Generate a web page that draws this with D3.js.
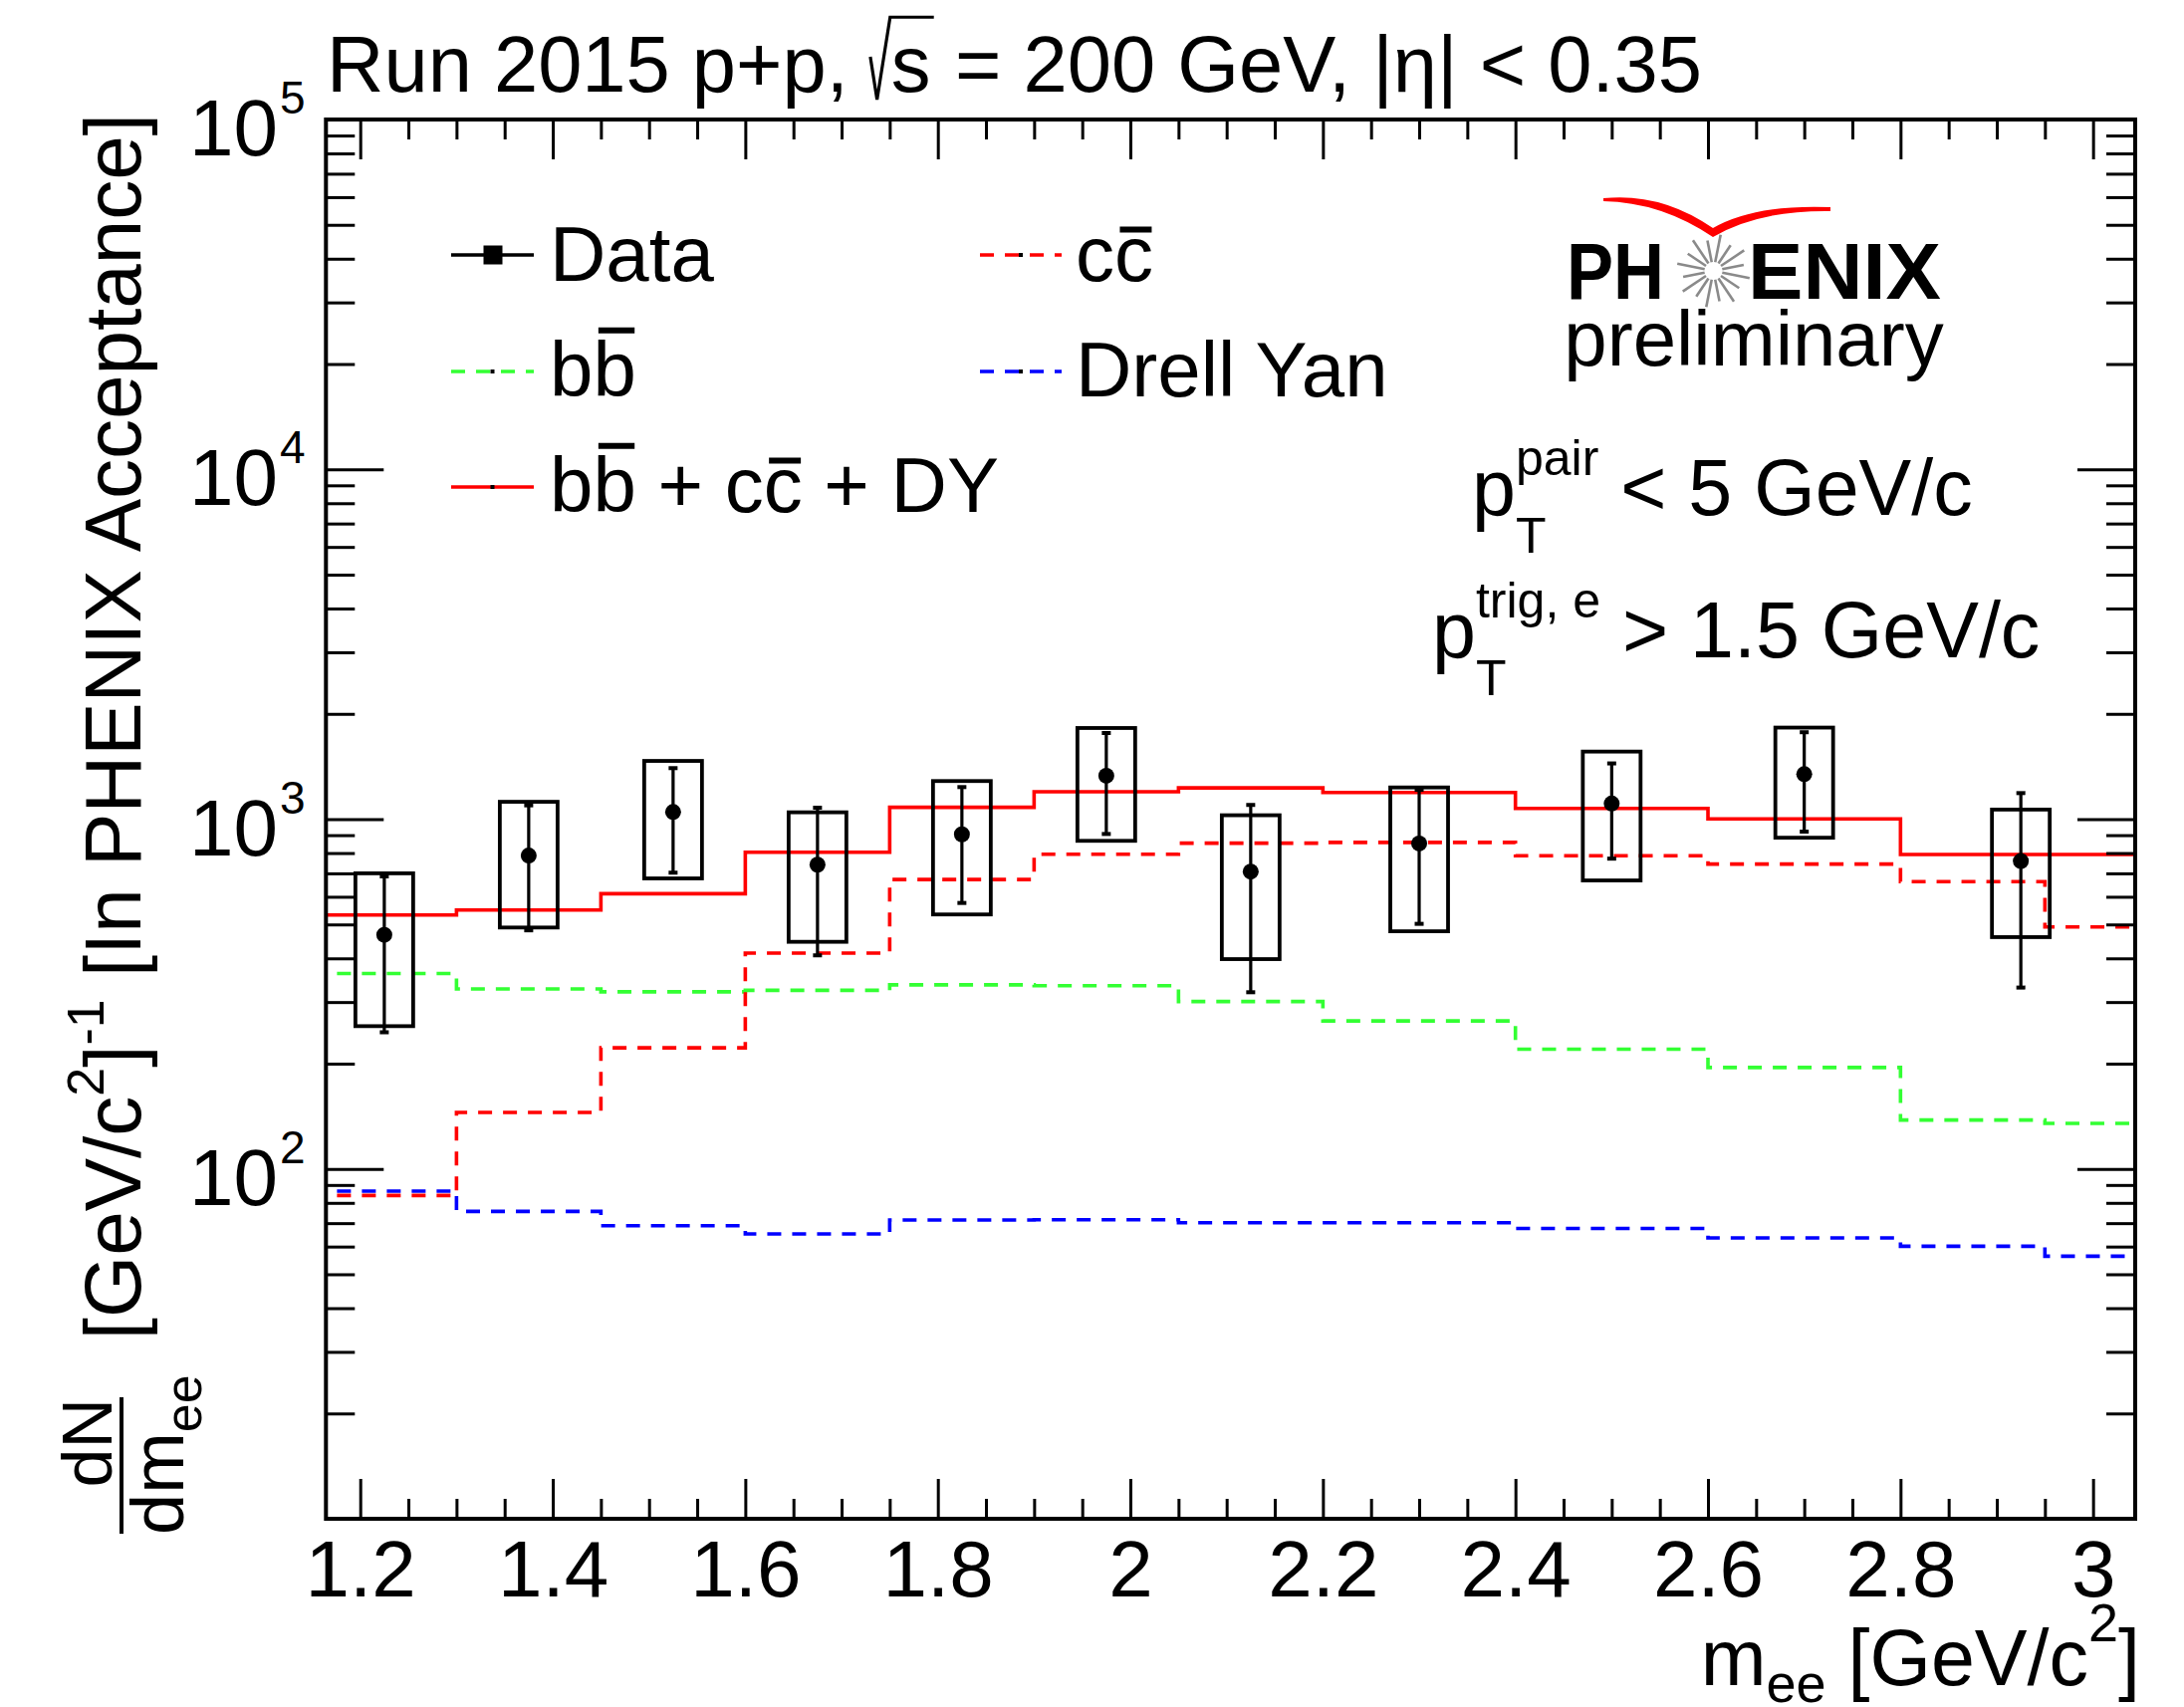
<!DOCTYPE html>
<html><head><meta charset="utf-8">
<script src="https://cdn.jsdelivr.net/npm/d3@7"></script>
<style>html,body{margin:0;padding:0;background:#fff;} svg{display:block;} svg text{white-space:pre;}</style>
</head><body>
<script>
// ---------------- data ----------------
const dataMass  = [1.225, 1.375, 1.525, 1.675, 1.825, 1.975, 2.125, 2.3, 2.5, 2.7, 2.925];
const dataYield = [467, 787, 1048, 741, 905, 1331, 708, 852, 1108, 1345, 759];
const statLow   = [246, 481, 703, 408, 576, 907, 320, 502, 771, 921, 330];
const statHigh  = [686, 1095, 1399, 1078, 1235, 1763, 1098, 1213, 1443, 1772, 1187];
const sysLow    = [256, 490, 677, 446, 534, 867, 398, 478, 668, 885, 460];
const sysHigh   = [700, 1121, 1467, 1046, 1285, 1822, 1026, 1232, 1560, 1827, 1065];
const sysHalfWidth = 0.03;

const sumBinEdges = [1.15, 1.3, 1.45, 1.6, 1.75, 1.9, 2.05, 2.2, 2.4, 2.6, 2.8, 3.05];
const sumTotal    = [532, 550, 612, 804, 1081, 1198, 1228, 1192, 1073, 1002, 792];

const modelBinEdges = [1.15, 1.3, 1.45, 1.6, 1.75, 1.9, 2.05, 2.2, 2.4, 2.6, 2.8, 2.95, 3.1];
const bbbar     = [362, 327, 321, 324, 336, 334, 301, 265, 220, 195, 138, 135];
const ccbar     = [84, 145, 222, 414, 672, 794, 854, 858, 786, 744, 663, 492];
const drellYan  = [86.4, 75.6, 68.8, 65.2, 71.5, 71.6, 70.2, 70.2, 67.6, 63.5, 60.1, 56.3];

const xTickValues = [1.2, 1.4, 1.6, 1.8, 2.0, 2.2, 2.4, 2.6, 2.8, 3.0];
const xTickLabels = ["1.2", "1.4", "1.6", "1.8", "2", "2.2", "2.4", "2.6", "2.8", "3"];
const yTickValues = [100, 1000, 10000, 100000];
const yTickExponents = ["2", "3", "4", "5"];

// ---------------- layout ----------------
const W = 2193, H = 1714;
const L = 327.3, R = 2144, T = 120, B = 1525;
const FONT = "'Liberation Sans', Arial, Helvetica, sans-serif";

const svg = d3.select("body").append("svg")
  .attr("width", W).attr("height", H)
  .attr("xml:space", "preserve")
  .style("font-family", FONT);
svg.append("rect").attr("width", W).attr("height", H).attr("fill", "#fff");

const x = d3.scaleLinear().domain([1.1644, 3.0438]).range([L, R]);
const y = d3.scaleLog().domain([10, 1e5]).range([B, T]);

// ---------------- rich text helper ----------------
function rich(parent, px, py, segs, opts = {}) {
  const g = parent.append("g")
    .attr("transform", `translate(${px},${py})` + (opts.rotate ? ` rotate(${opts.rotate})` : ""));
  const inner = g.append("g");
  let cur = 0, stackStart = null, stackMax = 0;
  segs.forEach(s => {
    const size = s.size || 78;
    const dy = s.dy || 0;
    let w;
    if (s.radical) {
      const sw = 0.25 * size;
      const t = inner.append("text").attr("x", cur + sw + 1).attr("y", dy)
        .attr("font-size", size).text(s.t);
      const tw = t.node().getComputedTextLength();
      w = sw + 1 + tw;
      inner.append("path")
        .attr("d", `M${cur},${dy - 0.44 * size} L${cur + 0.085 * size},${dy + 0.1 * size} L${cur + sw},${dy - 0.94 * size} L${cur + w + 0.04 * size},${dy - 0.94 * size}`)
        .attr("fill", "none").attr("stroke", "#000").attr("stroke-width", 3.2)
        .attr("stroke-linejoin", "miter");
      w += 0.03 * size;
    } else {
      const t = inner.append("text").attr("x", cur).attr("y", dy)
        .attr("font-size", size).text(s.t);
      if (s.bold) t.attr("font-weight", "bold");
      w = t.node().getComputedTextLength();
      if (s.over) {
        const oy = dy - (s.over === "asc" ? 0.85 : 0.66) * size;
        inner.append("line")
          .attr("x1", cur + 0.07 * size).attr("x2", cur + w - 0.02 * size)
          .attr("y1", oy).attr("y2", oy)
          .attr("stroke", "#000").attr("stroke-width", 6);
      }
    }
    if (s.stack) { stackStart = cur; stackMax = w; }
    else if (stackStart !== null) { cur = stackStart + Math.max(stackMax, w); stackStart = null; }
    else cur += w;
  });
  if (opts.anchor === "end") inner.attr("transform", `translate(${-cur},0)`);
  if (opts.anchor === "middle") inner.attr("transform", `translate(${-cur / 2},0)`);
  return cur;
}

// ---------------- histograms ----------------
svg.append("clipPath").attr("id", "plotclip")
  .append("rect").attr("x", L).attr("y", T).attr("width", R - L).attr("height", B - T);
const plot = svg.append("g").attr("clip-path", "url(#plotclip)");

function stepPoints(edges, vals) {
  const pts = vals.map((v, i) => [edges[i], v]);
  pts.push([edges[edges.length - 1], vals[vals.length - 1]]);
  return pts;
}
const stepLine = d3.line().x(d => x(d[0])).y(d => y(d[1])).curve(d3.curveStepAfter);

const histos = [
  { edges: modelBinEdges, vals: drellYan, color: "#0000ff", dash: "14,11" },
  { edges: modelBinEdges, vals: bbbar, color: "#33ff33", dash: "14,11" },
  { edges: modelBinEdges, vals: ccbar, color: "#ff0000", dash: "14,11" },
  { edges: sumBinEdges, vals: sumTotal, color: "#ff0000", dash: null }
];
histos.forEach(h => {
  plot.append("path")
    .attr("d", stepLine(stepPoints(h.edges, h.vals)))
    .attr("fill", "none").attr("stroke", h.color).attr("stroke-width", 3.6)
    .attr("stroke-dasharray", h.dash);
});

// ---------------- data points ----------------
const pts = dataMass.map((m, i) => ({ m, v: dataYield[i], sl: statLow[i], sh: statHigh[i], yl: sysLow[i], yh: sysHigh[i] }));
const dg = plot.append("g");
dg.selectAll("rect.sys").data(pts).join("rect").attr("class", "sys")
  .attr("x", d => x(d.m - sysHalfWidth)).attr("width", d => x(d.m + sysHalfWidth) - x(d.m - sysHalfWidth))
  .attr("y", d => y(d.yh)).attr("height", d => y(d.yl) - y(d.yh))
  .attr("fill", "none").attr("stroke", "#000").attr("stroke-width", 3.8);
dg.selectAll("line.stat").data(pts).join("line").attr("class", "stat")
  .attr("x1", d => x(d.m)).attr("x2", d => x(d.m))
  .attr("y1", d => y(d.sh)).attr("y2", d => y(d.sl))
  .attr("stroke", "#000").attr("stroke-width", 3.2);
["sh", "sl"].forEach(k => {
  dg.selectAll("line.cap" + k).data(pts).join("line").attr("class", "cap" + k)
    .attr("x1", d => x(d.m) - 4.5).attr("x2", d => x(d.m) + 4.5)
    .attr("y1", d => y(d[k])).attr("y2", d => y(d[k]))
    .attr("stroke", "#000").attr("stroke-width", 4);
});
dg.selectAll("circle").data(pts).join("circle")
  .attr("cx", d => x(d.m)).attr("cy", d => y(d.v)).attr("r", 8).attr("fill", "#000");

// ---------------- axes ----------------
const xMinor = d3.range(0, 37).map(i => +(1.2 + 0.05 * i).toFixed(2)).filter(v => !xTickValues.some(t => Math.abs(t - v) < 1e-6));
const yMinor = [];
[10, 100, 1000, 10000].forEach(dec => { for (let k = 2; k <= 9; k++) yMinor.push(dec * k); });

function styleAxis(g) {
  g.select(".domain").remove();
  g.selectAll(".tick line").attr("stroke", "#000").attr("stroke-width", 3);
}
// bottom
svg.append("g").attr("transform", `translate(0,${B})`)
  .call(d3.axisBottom(x).tickValues(xTickValues).tickSizeInner(-40).tickSizeOuter(0)
    .tickFormat((d, i) => xTickLabels[i]))
  .call(styleAxis)
  .call(g => g.selectAll("text").attr("dy", null).attr("y", 78)
    .attr("font-size", 80).attr("font-family", FONT).attr("fill", "#000"));
svg.append("g").attr("transform", `translate(0,${B})`)
  .call(d3.axisBottom(x).tickValues(xMinor).tickSizeInner(-20).tickSizeOuter(0).tickFormat(""))
  .call(styleAxis);
// top
svg.append("g").attr("transform", `translate(0,${T})`)
  .call(d3.axisTop(x).tickValues(xTickValues).tickSizeInner(-40).tickSizeOuter(0).tickFormat(""))
  .call(styleAxis);
svg.append("g").attr("transform", `translate(0,${T})`)
  .call(d3.axisTop(x).tickValues(xMinor).tickSizeInner(-20).tickSizeOuter(0).tickFormat(""))
  .call(styleAxis);
// left
svg.append("g").attr("transform", `translate(${L},0)`)
  .call(d3.axisLeft(y).tickValues(yTickValues.slice(0, 3)).tickSizeInner(-58).tickSizeOuter(0).tickFormat(""))
  .call(styleAxis);
svg.append("g").attr("transform", `translate(${L},0)`)
  .call(d3.axisLeft(y).tickValues(yMinor).tickSizeInner(-29).tickSizeOuter(0).tickFormat(""))
  .call(styleAxis);
// right
svg.append("g").attr("transform", `translate(${R},0)`)
  .call(d3.axisRight(y).tickValues(yTickValues.slice(0, 3)).tickSizeInner(-58).tickSizeOuter(0).tickFormat(""))
  .call(styleAxis);
svg.append("g").attr("transform", `translate(${R},0)`)
  .call(d3.axisRight(y).tickValues(yMinor).tickSizeInner(-29).tickSizeOuter(0).tickFormat(""))
  .call(styleAxis);

// frame
svg.append("rect").attr("x", L).attr("y", T).attr("width", R - L).attr("height", B - T)
  .attr("fill", "none").attr("stroke", "#000").attr("stroke-width", 4);

// y tick labels 10^n
yTickValues.forEach((v, i) => {
  const yy = y(v);
  svg.append("text").attr("x", 279).attr("y", yy + 36).attr("text-anchor", "end")
    .attr("font-size", 80).text("10");
  svg.append("text").attr("x", 281).attr("y", yy - 6)
    .attr("font-size", 46).text(yTickExponents[i]);
});

// ---------------- titles ----------------
rich(svg, 328, 92, [
  { t: "Run 2015 p+p, ", size: 79.5 },
  { t: "s", radical: true, size: 79.5 },
  { t: " = 200 GeV, |η| < 0.35", size: 79.5 }
]);

rich(svg, 2149, 1692, [
  { t: "m", size: 79 },
  { t: "ee", size: 54, dy: 17 },
  { t: " [GeV/c", size: 79 },
  { t: "2", size: 54, dy: -44 },
  { t: "]", size: 79 }
], { anchor: "end" });

// y title (rotated)
rich(svg, 141, 114, [
  { t: "[GeV/c", size: 80 },
  { t: "2", size: 52, dy: -37 },
  { t: "]", size: 80 },
  { t: "-1", size: 52, dy: -37 },
  { t: " [In PHENIX Acceptance]", size: 80 }
], { anchor: "end", rotate: -90 });
// fraction dN / dm_ee
rich(svg, 112, 1404, [{ t: "dN", size: 70 }], { anchor: "end", rotate: -90 });
svg.append("line").attr("x1", 122).attr("x2", 122).attr("y1", 1403).attr("y2", 1540)
  .attr("stroke", "#000").attr("stroke-width", 4);
rich(svg, 184, 1541, [{ t: "dm", size: 74 }, { t: "ee", size: 52, dy: 18 }], { rotate: -90 });

// ---------------- legend ----------------
const leg = svg.append("g");
function legLine(x1, x2, yy, color, dash, dot) {
  leg.append("line").attr("x1", x1).attr("x2", x2).attr("y1", yy).attr("y2", yy)
    .attr("stroke", color).attr("stroke-width", 3.4).attr("stroke-dasharray", dash);
  if (dot) leg.append("rect").attr("x", (x1 + x2) / 2 - 2).attr("y", yy - 2).attr("width", 4).attr("height", 4).attr("fill", "#000");
}
// row 1
legLine(453, 536, 256, "#000", null, false);
leg.append("rect").attr("x", 485.5).attr("y", 246.5).attr("width", 19).attr("height", 19).attr("fill", "#000");
rich(leg, 552, 282, [{ t: "Data" }]);
legLine(984, 1066, 256, "#ff0000", "14,11", true);
rich(leg, 1080, 282, [{ t: "c" }, { t: "c", over: "x" }]);
// row 2
legLine(453, 536, 373, "#33ff33", "14,11", true);
rich(leg, 552, 398, [{ t: "b" }, { t: "b", over: "asc" }]);
legLine(984, 1066, 373, "#0000ff", "14,11", true);
rich(leg, 1080, 398, [{ t: "Drell Yan" }]);
// row 3
legLine(453, 536, 489, "#ff0000", null, true);
rich(leg, 552, 514, [{ t: "b" }, { t: "b", over: "asc" }, { t: " + c" }, { t: "c", over: "x" }, { t: " + DY" }]);

// ---------------- PHENIX logo ----------------
const logo = svg.append("g");
logo.append("path")
  .attr("d", "M1610,199 Q1668,193 1720,229 Q1762,205 1838,208 L1838,212 Q1766,211 1720,238 Q1668,203 1610,202 Z")
  .attr("fill", "#ff0000");
logo.append("text").attr("x", 1573).attr("y", 300).attr("font-size", 80).attr("font-weight", "bold")
  .attr("textLength", 98).attr("lengthAdjust", "spacingAndGlyphs").text("PH");
logo.append("text").attr("x", 1755).attr("y", 300).attr("font-size", 80).attr("font-weight", "bold")
  .attr("textLength", 194).attr("lengthAdjust", "spacingAndGlyphs").text("ENIX");
const cx0 = 1720.5, cy0 = 272;
for (let i = 0; i < 16; i++) {
  const a = i * Math.PI / 8 + Math.PI / 16;
  const r2 = i % 2 ? 31 : 37;
  logo.append("line")
    .attr("x1", cx0 + 9 * Math.cos(a)).attr("y1", cy0 + 9 * Math.sin(a))
    .attr("x2", cx0 + r2 * Math.cos(a)).attr("y2", cy0 + r2 * Math.sin(a))
    .attr("stroke", "#8a8a8a").attr("stroke-width", 2.6);
}
logo.append("text").attr("x", 1761).attr("y", 367).attr("font-size", 78)
  .attr("text-anchor", "middle").text("preliminary");

// ---------------- cut labels ----------------
rich(svg, 1478, 517, [
  { t: "p", size: 79 },
  { t: "T", size: 50, dy: 38, stack: true },
  { t: "pair", size: 50, dy: -40 },
  { t: " < 5 GeV/c", size: 79 }
]);
rich(svg, 1438, 660, [
  { t: "p", size: 79 },
  { t: "T", size: 50, dy: 38, stack: true },
  { t: "trig, e", size: 50, dy: -40 },
  { t: " > 1.5 GeV/c", size: 79 }
]);
</script>
</body></html>
